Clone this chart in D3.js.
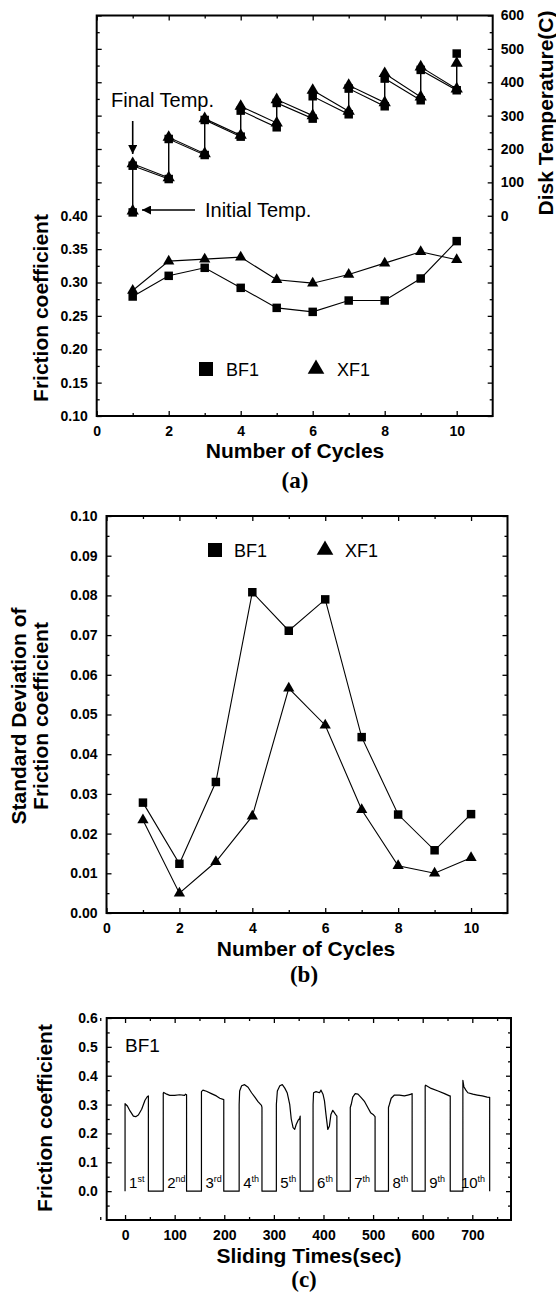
<!DOCTYPE html>
<html>
<head>
<meta charset="utf-8">
<script src="https://cdn.jsdelivr.net/npm/d3@7"></script>
<style>
body { margin: 0; background: #fff; }
text { font-family: "Liberation Sans", Arial, sans-serif; fill: #000; }
.tick text { font-weight: bold; font-size: 14px; }
.tick line { stroke: #000; stroke-width: 1.3; }
.domain { display: none; }
.title { font-weight: bold; font-size: 21px; }
.plabel { font-family: "Liberation Serif", "Times New Roman", serif; font-weight: bold; font-size: 23px; }
.legend { font-size: 18px; }
</style>
</head>
<body>
<script>
// ---- data ----
var cycles = [1, 2, 3, 4, 5, 6, 7, 8, 9, 10];

// (a) friction coefficient per cycle
var bf1Friction = [0.279, 0.310, 0.322, 0.292, 0.262, 0.256, 0.273, 0.273, 0.306, 0.362];
var xf1Friction = [0.288, 0.332, 0.335, 0.338, 0.304, 0.299, 0.312, 0.329, 0.346, 0.334];

// (a) disk temperature, start and end of each cycle
var bf1TempInitial = [10, 110, 182, 237, 265, 291, 304, 328, 346, 376];
var bf1TempFinal   = [150, 230, 287, 315, 338, 358, 381, 411, 437, 486];
var xf1TempInitial = [14, 114, 186, 241, 278, 300, 313, 339, 356, 380];
var xf1TempFinal   = [156, 235, 291, 328, 348, 376, 391, 426, 446, 457];

// (b) standard deviation of friction coefficient
var bf1StdDev = [0.0278, 0.0124, 0.0330, 0.0808, 0.0711, 0.0790, 0.0443, 0.0248, 0.0158, 0.0249];
var xf1StdDev = [0.0234, 0.0050, 0.0129, 0.0244, 0.0566, 0.0473, 0.0260, 0.0119, 0.0100, 0.0139];

// (c) BF1 friction trace over sliding time
var slideTime = [
  0, 0, 4.7, 10, 16.8, 21.5, 26.8, 33.5, 40.2, 45, 47, 47,
  77, 77, 78, 84, 90, 100, 110, 120, 122, 124, 124,
  154, 154, 157, 164, 174, 184, 191, 199, 199,
  230, 230, 231, 235, 241, 248, 255, 262, 268, 275, 276, 276,
  305, 305, 307, 312, 317, 322, 327, 329, 332, 335, 338.7, 342, 345, 348.7, 352, 353, 353,
  379, 379, 380, 385, 392, 395, 399, 402, 405, 408.7, 412, 415, 418.7, 422, 425, 427, 427,
  454, 454, 456, 459, 464, 469.5, 476, 483, 489.6, 495, 500, 503, 504, 504,
  531, 531, 533, 536.5, 543, 553, 563, 570, 577, 578.7, 578.7,
  605, 605, 606, 617, 631, 644, 654, 655.5, 655.5,
  681, 681, 683, 687, 691, 701, 710, 720, 730, 735, 735
];
var slideFriction = [
  0, 0.303, 0.295, 0.278, 0.260, 0.258, 0.264, 0.284, 0.315, 0.328, 0.330, 0,
  0, 0.340, 0.342, 0.336, 0.332, 0.332, 0.334, 0.332, 0.336, 0.334, 0,
  0, 0.345, 0.350, 0.346, 0.338, 0.330, 0.322, 0.317, 0,
  0, 0.300, 0.347, 0.365, 0.369, 0.360, 0.341, 0.325, 0.310, 0.297, 0.290, 0,
  0, 0.300, 0.347, 0.365, 0.369, 0.357, 0.340, 0.324, 0.300, 0.250, 0.220, 0.214, 0.231, 0.245, 0.252, 0.260, 0,
  0, 0.300, 0.341, 0.345, 0.341, 0.350, 0.336, 0.313, 0.266, 0.214, 0.226, 0.266, 0.280, 0.272, 0.264, 0.260, 0,
  0, 0.290, 0.301, 0.326, 0.338, 0.336, 0.324, 0.310, 0.289, 0.272, 0.266, 0.260, 0.258, 0,
  0, 0.290, 0.301, 0.322, 0.333, 0.333, 0.330, 0.333, 0.336, 0.338, 0,
  0, 0.365, 0.367, 0.356, 0.347, 0.338, 0.330, 0.330, 0,
  0, 0.384, 0.362, 0.350, 0.341, 0.336, 0.333, 0.330, 0.326, 0.325, 0
];
var cycleStart = [0, 77, 154, 230, 305, 379, 454, 531, 605, 681];
var ordNumber = ["1", "2", "3", "4", "5", "6", "7", "8", "9", "10"];
var ordSuffix = ["st", "nd", "rd", "th", "th", "th", "th", "th", "th", "th"];

var svg = d3.select("body").append("svg")
    .attr("width", 556)
    .attr("height", 1293);

var square = d3.symbol().type(d3.symbolSquare);
var triangle = d3.symbol().type(d3.symbolTriangle);

function range(a, b, step) {
  return d3.range(Math.round((b - a) / step) + 1).map(function(i) { return +(a + i * step).toFixed(4); });
}

// Origin style box: ticks on four sides pointing inward
function frame(x, y, o) {
  var x0 = x.range()[0], x1 = x.range()[1];
  var yb = y.range()[0], yt = y.range()[1];
  var g = svg.append("g");

  g.append("g").attr("transform", "translate(0," + yb + ")")
      .call(d3.axisBottom(x).tickValues(o.xMajor).tickSize(-5).tickPadding(10).tickFormat(o.xFmt));
  g.append("g").attr("transform", "translate(0," + yb + ")")
      .call(d3.axisBottom(x).tickValues(o.xMinor).tickSize(-3).tickFormat(""));
  g.append("g").attr("transform", "translate(0," + yt + ")")
      .call(d3.axisTop(x).tickValues(o.xMajor).tickSize(-5).tickFormat(""));
  g.append("g").attr("transform", "translate(0," + yt + ")")
      .call(d3.axisTop(x).tickValues(o.xMinor).tickSize(-3).tickFormat(""));

  g.append("g").attr("transform", "translate(" + x0 + ",0)")
      .call(d3.axisLeft(y).tickValues(o.yMajor).tickSize(-5).tickPadding(9).tickFormat(o.yFmt));
  g.append("g").attr("transform", "translate(" + x0 + ",0)")
      .call(d3.axisLeft(y).tickValues(o.yMinor).tickSize(-3).tickFormat(""));

  if (o.y2) {
    g.append("g").attr("transform", "translate(" + x1 + ",0)")
        .call(d3.axisRight(o.y2).tickValues(o.y2Major).tickSize(-5).tickPadding(8).tickFormat(o.y2Fmt));
    g.append("g").attr("transform", "translate(" + x1 + ",0)")
        .call(d3.axisRight(o.y2).tickValues(o.y2Minor).tickSize(-3).tickFormat(""));
  } else {
    g.append("g").attr("transform", "translate(" + x1 + ",0)")
        .call(d3.axisRight(y).tickValues(o.yMajor).tickSize(-5).tickFormat(""));
    g.append("g").attr("transform", "translate(" + x1 + ",0)")
        .call(d3.axisRight(y).tickValues(o.yMinor).tickSize(-3).tickFormat(""));
  }

  g.append("rect")
      .attr("x", x0).attr("y", yt)
      .attr("width", x1 - x0).attr("height", yb - yt)
      .attr("fill", "none").attr("stroke", "#000").attr("stroke-width", 2);
  return g;
}

function series(x, y, xs, ys, shape, size) {
  var pts = xs.map(function(d, i) { return [d, ys[i]]; });
  svg.append("path")
      .datum(pts)
      .attr("fill", "none").attr("stroke", "#000").attr("stroke-width", 1.1)
      .attr("d", d3.line().x(function(d) { return x(d[0]); }).y(function(d) { return y(d[1]); }));
  svg.append("g").selectAll("path").data(pts).join("path")
      .attr("transform", function(d) { return "translate(" + x(d[0]) + "," + y(d[1]) + ")"; })
      .attr("d", shape.size(size)());
}

function vTitle(txt, cx, cy) {
  svg.append("text").attr("class", "title")
      .attr("transform", "translate(" + cx + "," + cy + ") rotate(-90)")
      .attr("text-anchor", "middle").text(txt);
}

// ================= (a) =================
var xA = d3.scaleLinear().domain([0, 11]).range([96.7, 492.7]);
var yA = d3.scaleLinear().domain([0.10, 0.70]).range([416, 15.5]);
var tA = d3.scaleLinear().domain([-600, 600]).range([416, 15.5]);

frame(xA, yA, {
  xMajor: range(0, 10, 2), xMinor: range(1, 9, 2), xFmt: d3.format("d"),
  yMajor: range(0.10, 0.70, 0.05), yMinor: range(0.125, 0.675, 0.05),
  yFmt: function(d) { return d <= 0.4001 ? d3.format(".2f")(d) : ""; },
  y2: tA, y2Major: range(-600, 600, 100), y2Minor: range(-550, 550, 100),
  y2Fmt: function(d) { return d >= 0 ? d : ""; }
});

// temperature: vertical rise in a cycle, cooling line to the next one
function tempPath(init, fin) {
  var xs = [], ys = [];
  cycles.forEach(function(c, i) { xs.push(c, c); ys.push(init[i], fin[i]); });
  return [xs, ys];
}
var tx = tempPath(xf1TempInitial, xf1TempFinal);
series(xA, tA, tx[0], tx[1], triangle, 65);
var tb = tempPath(bf1TempInitial, bf1TempFinal);
series(xA, tA, tb[0], tb[1], square, 72);

series(xA, yA, cycles, xf1Friction, triangle, 55);
series(xA, yA, cycles, bf1Friction, square, 72);

// annotations
svg.append("defs").append("marker")
    .attr("id", "head").attr("viewBox", "0 0 10 10")
    .attr("refX", 10).attr("refY", 5)
    .attr("markerWidth", 9).attr("markerHeight", 9)
    .attr("markerUnits", "userSpaceOnUse")
    .attr("orient", "auto")
  .append("path").attr("d", "M0,0L10,5L0,10z");

svg.append("text").attr("x", 111).attr("y", 107).style("font-size", "20px").text("Final Temp.");
svg.append("line")
    .attr("x1", xA(1)).attr("x2", xA(1)).attr("y1", 121).attr("y2", 154)
    .attr("stroke", "#000").attr("stroke-width", 1.6).attr("marker-end", "url(#head)");
svg.append("text").attr("x", 205).attr("y", 217).style("font-size", "20px").text("Initial Temp.");
svg.append("line")
    .attr("x1", 195).attr("x2", 142).attr("y1", 210).attr("y2", 210)
    .attr("stroke", "#000").attr("stroke-width", 1.6).attr("marker-end", "url(#head)");

// legend (a)
svg.append("path").attr("transform", "translate(206,369)").attr("d", square.size(196)());
svg.append("text").attr("class", "legend").attr("x", 226).attr("y", 376).text("BF1");
svg.append("path").attr("transform", "translate(316,369)").attr("d", triangle.size(120)());
svg.append("text").attr("class", "legend").attr("x", 337).attr("y", 376).text("XF1");

vTitle("Friction coefficient", 48, 308);
vTitle("Disk Temperature(C)", 553, 113);
svg.append("text").attr("class", "title").attr("x", 295).attr("y", 458).attr("text-anchor", "middle").text("Number of Cycles");
svg.append("text").attr("class", "plabel").attr("x", 295).attr("y", 488).attr("text-anchor", "middle").text("(a)");

// ================= (b) =================
var xB = d3.scaleLinear().domain([0, 11]).range([106.5, 507.5]);
var yB = d3.scaleLinear().domain([0, 0.10]).range([913, 516]);

frame(xB, yB, {
  xMajor: range(0, 10, 2), xMinor: range(1, 9, 2), xFmt: d3.format("d"),
  yMajor: range(0, 0.10, 0.01), yMinor: range(0.005, 0.095, 0.01), yFmt: d3.format(".2f")
});

series(xB, yB, cycles, xf1StdDev, triangle, 55);
series(xB, yB, cycles, bf1StdDev, square, 72);

svg.append("path").attr("transform", "translate(215,550)").attr("d", square.size(196)());
svg.append("text").attr("class", "legend").attr("x", 234).attr("y", 557).text("BF1");
svg.append("path").attr("transform", "translate(325,550)").attr("d", triangle.size(120)());
svg.append("text").attr("class", "legend").attr("x", 345).attr("y", 557).text("XF1");

svg.append("text").attr("class", "title")
    .attr("transform", "translate(26,716) rotate(-90)").attr("text-anchor", "middle")
    .text("Standard Deviation of");
vTitle("Friction coefficient", 48, 716);
svg.append("text").attr("class", "title").attr("x", 306).attr("y", 956).attr("text-anchor", "middle").text("Number of Cycles");
svg.append("text").attr("class", "plabel").attr("x", 304).attr("y", 982).attr("text-anchor", "middle").text("(b)");

// ================= (c) =================
var xC = d3.scaleLinear().domain([-37, 778]).range([106.7, 511]);
var yC = d3.scaleLinear().domain([-0.1, 0.6]).range([1220, 1018]);

frame(xC, yC, {
  xMajor: range(0, 700, 100), xMinor: range(-50, 750, 100), xFmt: d3.format("d"),
  yMajor: range(0, 0.6, 0.1), yMinor: range(-0.05, 0.55, 0.1), yFmt: d3.format(".1f")
});

var trace = slideTime.map(function(t, i) { return [t, slideFriction[i]]; });
svg.append("path")
    .datum(trace)
    .attr("fill", "none").attr("stroke", "#000").attr("stroke-width", 1.2)
    .attr("stroke-linejoin", "round")
    .attr("d", d3.line().x(function(d) { return xC(d[0]); }).y(function(d) { return yC(d[1]); }));

var ord = svg.append("g").selectAll("text").data(cycleStart).join("text")
    .attr("x", function(d, i) { return xC(d) + (i === 9 ? -2 : 4); })
    .attr("y", yC(0) - 3)
    .style("font-size", "15px");
ord.append("tspan").text(function(d, i) { return ordNumber[i]; });
ord.append("tspan").attr("dy", -6).style("font-size", "9px").text(function(d, i) { return ordSuffix[i]; });

svg.append("text").attr("x", 125).attr("y", 1052).style("font-size", "19px").text("BF1");

vTitle("Friction coefficient", 52, 1118);
svg.append("text").attr("class", "title").attr("x", 309).attr("y", 1263).attr("text-anchor", "middle").text("Sliding Times(sec)");
svg.append("text").attr("class", "plabel").attr("x", 304).attr("y", 1287).attr("text-anchor", "middle").text("(c)");
</script>
</body>
</html>
